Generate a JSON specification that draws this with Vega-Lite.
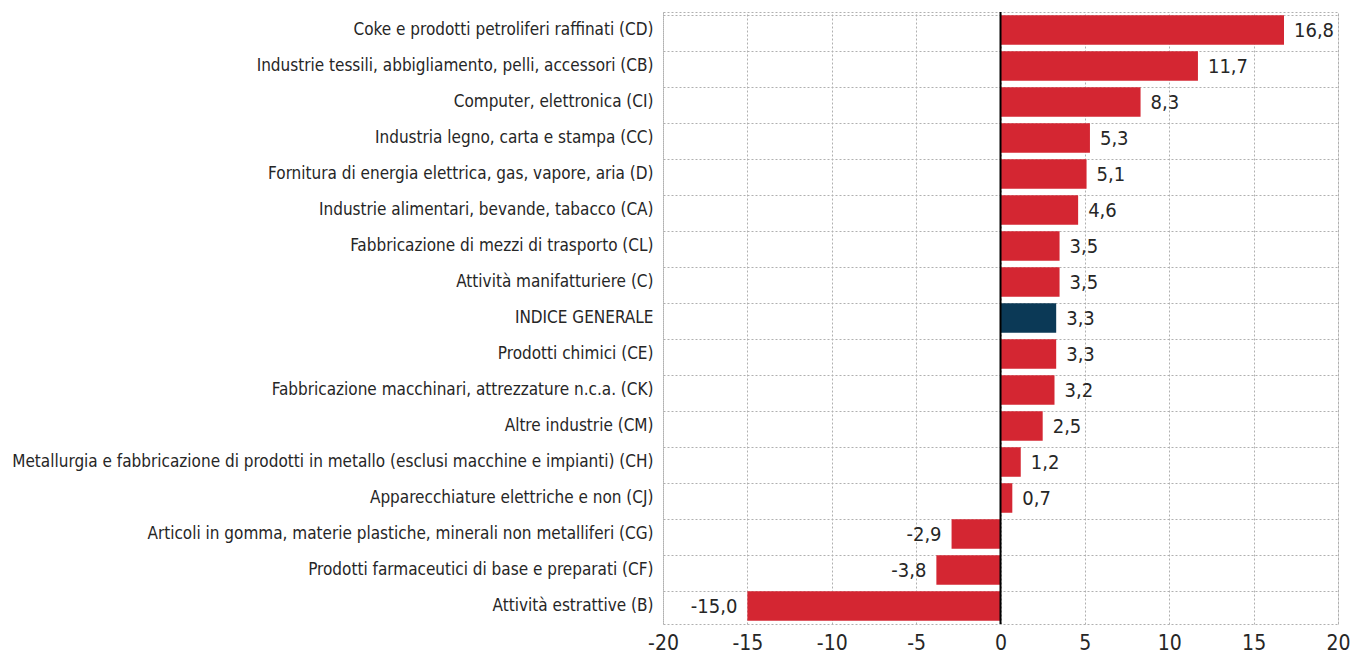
{
  "$schema": "https://vega.github.io/schema/vega-lite/v6.json",
  "width": 675,
  "height": 612,
  "autosize": {"type": "none"},
  "padding": {"left": 663, "top": 12, "right": 16, "bottom": 39},
  "background": "white",
  "config": {
    "font": "DejaVu Sans Condensed, Liberation Sans, sans-serif",
    "view": {"stroke": "#b0b0b0", "strokeDash": [2, 2], "strokeWidth": 1},
    "locale": {"number": {"decimal": ",", "thousands": ".", "grouping": [3], "currency": ["€", ""], "minus": "-"}}
  },
  "datasets": {
    "settori": [
      {"settore": "Coke e prodotti petroliferi raffinati (CD)", "valore": 16.8, "tipo": "settore"},
      {"settore": "Industrie tessili, abbigliamento, pelli, accessori (CB)", "valore": 11.7, "tipo": "settore"},
      {"settore": "Computer, elettronica (CI)", "valore": 8.3, "tipo": "settore"},
      {"settore": "Industria legno, carta e stampa (CC)", "valore": 5.3, "tipo": "settore"},
      {"settore": "Fornitura di energia elettrica, gas, vapore, aria (D)", "valore": 5.1, "tipo": "settore"},
      {"settore": "Industrie alimentari, bevande, tabacco (CA)", "valore": 4.6, "tipo": "settore"},
      {"settore": "Fabbricazione di mezzi di trasporto (CL)", "valore": 3.5, "tipo": "settore"},
      {"settore": "Attività manifatturiere (C)", "valore": 3.5, "tipo": "settore"},
      {"settore": "INDICE GENERALE", "valore": 3.3, "tipo": "indice"},
      {"settore": "Prodotti chimici (CE)", "valore": 3.3, "tipo": "settore"},
      {"settore": "Fabbricazione macchinari, attrezzature n.c.a. (CK)", "valore": 3.2, "tipo": "settore"},
      {"settore": "Altre industrie (CM)", "valore": 2.5, "tipo": "settore"},
      {"settore": "Metallurgia e fabbricazione di prodotti in metallo (esclusi macchine e impianti) (CH)", "valore": 1.2, "tipo": "settore"},
      {"settore": "Apparecchiature elettriche e non (CJ)", "valore": 0.7, "tipo": "settore"},
      {"settore": "Articoli in gomma, materie plastiche, minerali non metalliferi (CG)", "valore": -2.9, "tipo": "settore"},
      {"settore": "Prodotti farmaceutici di base e preparati (CF)", "valore": -3.8, "tipo": "settore"},
      {"settore": "Attività estrattive (B)", "valore": -15.0, "tipo": "settore"}
    ],
    "zero": [{"zero": 0}]
  },
  "layer": [
    {
      "data": {"name": "settori"},
      "mark": {"type": "bar"},
      "encoding": {
        "y": {
          "field": "settore",
          "type": "nominal",
          "sort": null,
          "scale": {"paddingInner": 0.18, "paddingOuter": 0.09},
          "axis": {
            "title": null,
            "ticks": false,
            "domain": false,
            "bandPosition": 0,
            "grid": true,
            "gridColor": "#b0b0b0",
            "gridDash": [2, 2],
            "gridWidth": 1,
            "labelFontSize": 17,
            "labelColor": "#262626",
            "labelPadding": 10,
            "labelLimit": 700,
            "labelBound": false
          }
        },
        "x": {
          "field": "valore",
          "type": "quantitative",
          "scale": {"domain": [-20, 20], "nice": false},
          "axis": {
            "title": null,
            "values": [-20, -15, -10, -5, 0, 5, 10, 15, 20],
            "format": "d",
            "ticks": false,
            "domain": false,
            "grid": true,
            "gridColor": "#b0b0b0",
            "gridDash": [2, 2],
            "gridWidth": 1,
            "labelFontSize": 21,
            "labelColor": "#262626",
            "labelPadding": 8,
            "labelFlush": false
          }
        },
        "color": {
          "field": "tipo",
          "type": "nominal",
          "scale": {"domain": ["settore", "indice"], "range": ["#d42632", "#0b3956"]},
          "legend": null
        }
      }
    },
    {
      "data": {"name": "zero"},
      "mark": {"type": "rule", "color": "#000000", "strokeWidth": 2},
      "encoding": {"x": {"field": "zero", "type": "quantitative"}}
    },
    {
      "data": {"name": "settori"},
      "transform": [{"filter": "datum.valore >= 0"}],
      "mark": {"type": "text", "align": "left", "baseline": "middle", "dx": 10, "dy": 1, "fontSize": 20, "color": "#262626"},
      "encoding": {
        "y": {"field": "settore", "type": "nominal", "sort": null},
        "x": {"field": "valore", "type": "quantitative"},
        "text": {"field": "valore", "type": "quantitative", "format": ".1f"}
      }
    },
    {
      "data": {"name": "settori"},
      "transform": [{"filter": "datum.valore < 0"}],
      "mark": {"type": "text", "align": "right", "baseline": "middle", "dx": -10, "dy": 1, "fontSize": 20, "color": "#262626"},
      "encoding": {
        "y": {"field": "settore", "type": "nominal", "sort": null},
        "x": {"field": "valore", "type": "quantitative"},
        "text": {"field": "valore", "type": "quantitative", "format": ".1f"}
      }
    }
  ]
}
